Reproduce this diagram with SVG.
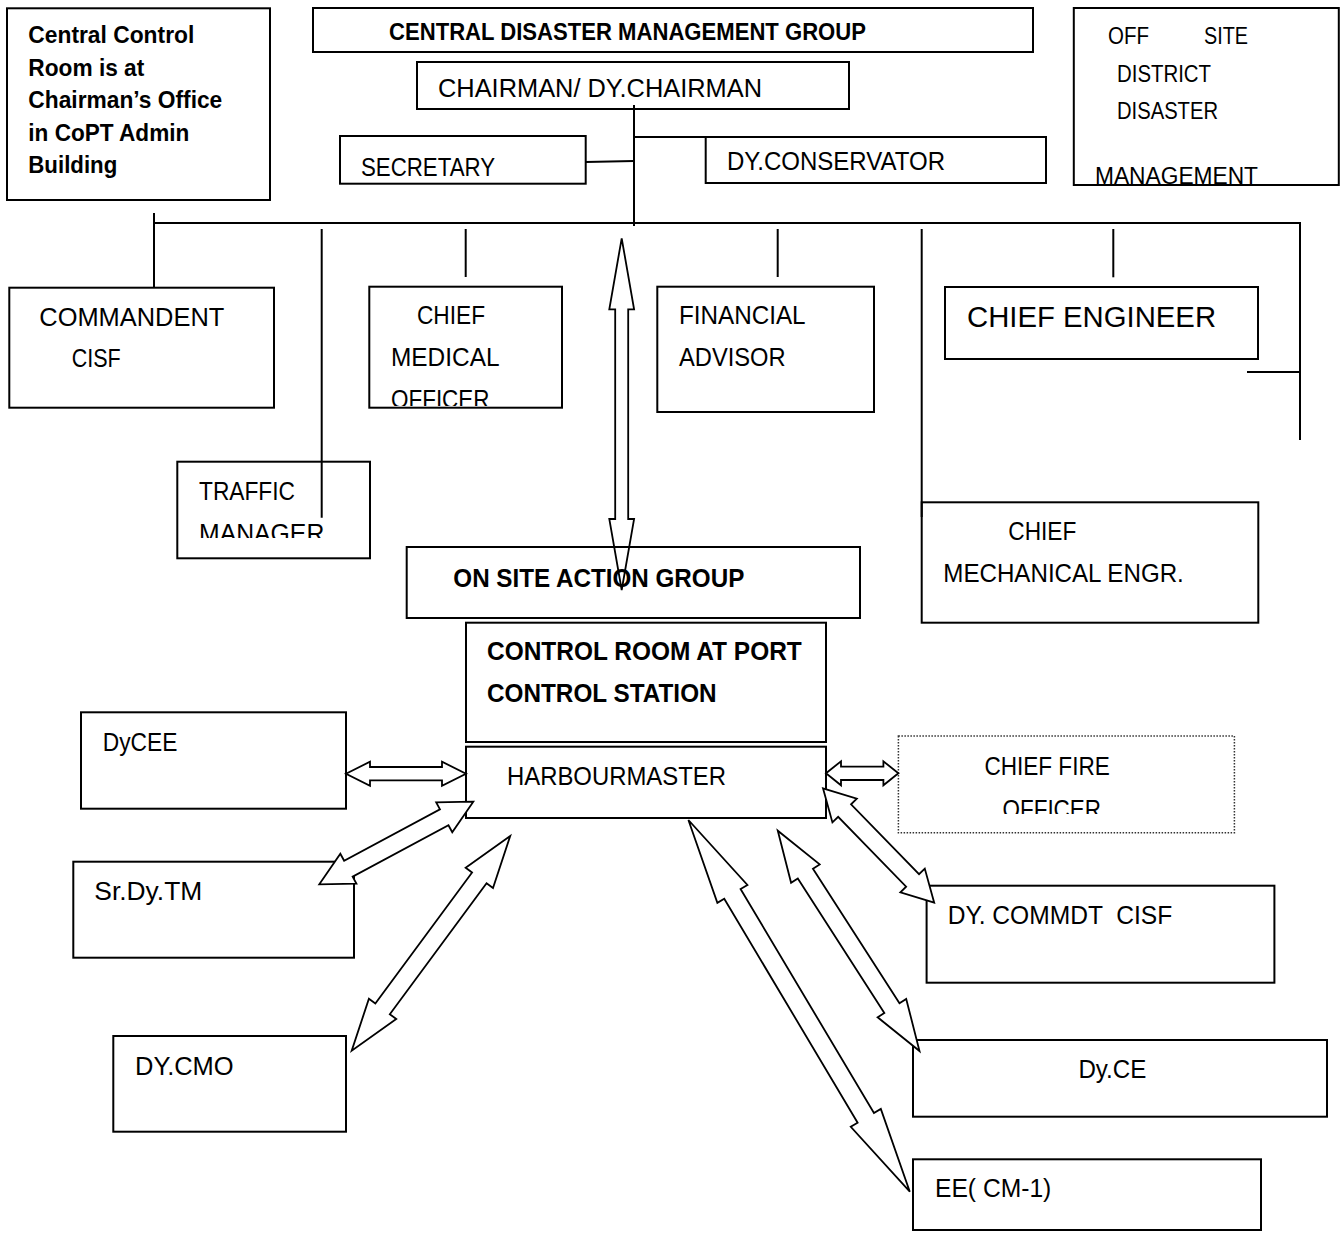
<svg xmlns="http://www.w3.org/2000/svg" width="1341" height="1233" viewBox="0 0 1341 1233">
<style>
.box{fill:#fff;stroke:#000;stroke-width:2}
.dot{fill:#fff;stroke:#333;stroke-width:1.5;stroke-dasharray:1.5 1.5}
.t{font-family:"Liberation Sans",Arial,sans-serif;font-size:26px;fill:#000}
.b{font-weight:bold;font-size:26px}
.s{font-weight:bold;font-size:24px}
.o{font-size:23.3px}
.ln{stroke:#000;stroke-width:2;fill:none}
.arr{fill:#fff;stroke:#000;stroke-width:1.8;stroke-linejoin:miter}
.arrn{fill:none;stroke:#000;stroke-width:1.8;stroke-linejoin:miter}
</style>
<defs>
<clipPath id="cMed"><rect x="369" y="286" width="194" height="120"/></clipPath>
<clipPath id="cTraf"><rect x="177" y="461" width="194" height="77"/></clipPath>
<clipPath id="cFire"><rect x="898" y="736" width="337" height="78"/></clipPath>
</defs>
<rect width="1341" height="1233" fill="#fff"/>

<g id="ccr">
<rect class="box" x="7" y="8.3" width="263" height="191.7"/>
<text class="t s" x="28.3" y="43" textLength="166" lengthAdjust="spacingAndGlyphs">Central Control</text>
<text class="t s" x="28.3" y="75.5" textLength="116" lengthAdjust="spacingAndGlyphs">Room is at</text>
<text class="t s" x="28.3" y="108" textLength="194" lengthAdjust="spacingAndGlyphs">Chairman’s Office</text>
<text class="t s" x="28.3" y="140.5" textLength="161" lengthAdjust="spacingAndGlyphs">in CoPT Admin</text>
<text class="t s" x="28.3" y="173" textLength="89" lengthAdjust="spacingAndGlyphs">Building</text>
</g>

<g id="cdmg">
<rect class="box" x="313" y="8" width="720" height="44"/>
<text class="t s" x="389" y="40" textLength="477" lengthAdjust="spacingAndGlyphs">CENTRAL DISASTER MANAGEMENT GROUP</text>
</g>

<g id="chairman">
<rect class="box" x="417" y="62" width="432" height="47"/>
<text class="t" x="438" y="97" textLength="324" lengthAdjust="spacingAndGlyphs">CHAIRMAN/ DY.CHAIRMAN</text>
</g>

<g id="secretary">
<rect class="box" x="340" y="136" width="245.7" height="47.7"/>
<text class="t" x="361" y="176" textLength="134" lengthAdjust="spacingAndGlyphs">SECRETARY</text>
</g>

<g id="dyconservator">
<rect class="box" x="705.7" y="137" width="340.3" height="46"/>
<text class="t" x="727" y="170" textLength="218" lengthAdjust="spacingAndGlyphs">DY.CONSERVATOR</text>
</g>

<g id="offsite">
<rect class="box" x="1073.8" y="8" width="265" height="177"/>
<text class="t o" x="1108" y="44" textLength="41" lengthAdjust="spacingAndGlyphs">OFF</text>
<text class="t o" x="1204" y="44" textLength="44" lengthAdjust="spacingAndGlyphs">SITE</text>
<text class="t o" x="1117" y="81.5" textLength="94" lengthAdjust="spacingAndGlyphs">DISTRICT</text>
<text class="t o" x="1117" y="119" textLength="101" lengthAdjust="spacingAndGlyphs">DISASTER</text>
<text class="t o" x="1095" y="184" textLength="163" lengthAdjust="spacingAndGlyphs">MANAGEMENT</text>
</g>

<g id="commandent">
<rect class="box" x="9.3" y="287.7" width="264.7" height="120"/>
<text class="t" x="39.3" y="326" textLength="185" lengthAdjust="spacingAndGlyphs">COMMANDENT</text>
<text class="t" x="71.7" y="366.7" textLength="49" lengthAdjust="spacingAndGlyphs">CISF</text>
</g>

<g id="cmo">
<rect class="box" x="369.3" y="286.7" width="192.7" height="121"/>
<text class="t" x="417" y="324" textLength="68" lengthAdjust="spacingAndGlyphs">CHIEF</text>
<text class="t" x="391" y="365.7" textLength="108.5" lengthAdjust="spacingAndGlyphs">MEDICAL</text>
<text class="t" x="391" y="408" textLength="98.5" lengthAdjust="spacingAndGlyphs" clip-path="url(#cMed)">OFFICER</text>
</g>

<g id="financial">
<rect class="box" x="657.3" y="286.7" width="216.7" height="125.3"/>
<text class="t" x="679" y="324.3" textLength="126.6" lengthAdjust="spacingAndGlyphs">FINANCIAL</text>
<text class="t" x="679" y="365.7" textLength="106.6" lengthAdjust="spacingAndGlyphs">ADVISOR</text>
</g>

<g id="chiefengineer">
<rect class="box" x="945" y="287" width="313" height="72"/>
<text class="t" x="967" y="326.7" style="font-size:29.3px">CHIEF ENGINEER</text>
</g>

<g id="traffic">
<rect class="box" x="177.3" y="461.7" width="192.7" height="96.6"/>
<text class="t" x="199" y="500" textLength="96" lengthAdjust="spacingAndGlyphs">TRAFFIC</text>
<text class="t" x="199" y="542" textLength="125.3" lengthAdjust="spacingAndGlyphs" clip-path="url(#cTraf)">MANAGER</text>
</g>

<g id="chiefmech">
<rect class="box" x="921.7" y="502.3" width="336.6" height="120.4"/>
<text class="t" x="1008.3" y="540" textLength="68" lengthAdjust="spacingAndGlyphs">CHIEF</text>
<text class="t" x="943.3" y="581.7" textLength="240.5" lengthAdjust="spacingAndGlyphs">MECHANICAL ENGR.</text>
</g>

<g id="onsite">
<rect class="box" x="406.7" y="547" width="453.3" height="71"/>
<text class="t b" x="453.3" y="586.7" textLength="291" lengthAdjust="spacingAndGlyphs">ON SITE ACTION GROUP</text>
</g>

<g id="controlroom">
<rect class="box" x="466" y="622.7" width="360" height="119.3"/>
<text class="t b" x="487" y="660" textLength="314.8" lengthAdjust="spacingAndGlyphs">CONTROL ROOM AT PORT</text>
<text class="t b" x="487" y="701.7" textLength="229.6" lengthAdjust="spacingAndGlyphs">CONTROL STATION</text>
</g>

<g id="harbourmaster">
<rect class="box" x="466" y="746.7" width="360" height="71.3"/>
<text class="t" x="507" y="785" textLength="219" lengthAdjust="spacingAndGlyphs">HARBOURMASTER</text>
</g>

<g id="dycee">
<rect class="box" x="81" y="712.3" width="265" height="96.4"/>
<text class="t" x="102.7" y="751" textLength="74.7" lengthAdjust="spacingAndGlyphs">DyCEE</text>
</g>

<g id="srdytm">
<rect class="box" x="73.3" y="861.7" width="280.7" height="96"/>
<text class="t" x="94.3" y="900" textLength="108" lengthAdjust="spacingAndGlyphs">Sr.Dy.TM</text>
</g>

<g id="dycmo">
<rect class="box" x="113.3" y="1036" width="232.7" height="95.7"/>
<text class="t" x="135" y="1075" textLength="98.7" lengthAdjust="spacingAndGlyphs">DY.CMO</text>
</g>

<g id="chieffire">
<rect class="dot" x="898.4" y="736" width="336" height="96.7"/>
<text class="t" x="984.4" y="775" textLength="125.4" lengthAdjust="spacingAndGlyphs">CHIEF FIRE</text>
<text class="t" x="1002.5" y="818" textLength="98.5" lengthAdjust="spacingAndGlyphs" clip-path="url(#cFire)">OFFICER</text>
</g>

<g id="dycommdt">
<rect class="box" x="926.6" y="885.7" width="347.8" height="97"/>
<text class="t" x="947.7" y="924.3" textLength="224.5" lengthAdjust="spacingAndGlyphs" style="white-space:pre">DY. COMMDT  CISF</text>
</g>

<g id="dyce">
<rect class="box" x="913" y="1040" width="414" height="76.7"/>
<text class="t" x="1078.4" y="1078.3" textLength="68" lengthAdjust="spacingAndGlyphs">Dy.CE</text>
</g>

<g id="ee">
<rect class="box" x="913" y="1159.3" width="348" height="70.7"/>
<text class="t" x="935" y="1197.3" textLength="116.3" lengthAdjust="spacingAndGlyphs">EE( CM-1)</text>
</g>

<g id="connectors">
<line class="ln" x1="634" y1="105" x2="634" y2="226"/>
<line class="ln" x1="634" y1="137" x2="717" y2="137"/>
<line class="ln" x1="585.7" y1="162" x2="634" y2="161"/>
<line class="ln" x1="153" y1="223" x2="1301" y2="223"/>
<line class="ln" x1="154" y1="213" x2="154" y2="287.7"/>
<line class="ln" x1="321.7" y1="229" x2="321.7" y2="517.7"/>
<line class="ln" x1="465.7" y1="229" x2="465.7" y2="277"/>
<line class="ln" x1="777.7" y1="229" x2="777.7" y2="277"/>
<line class="ln" x1="921.7" y1="229" x2="921.7" y2="517"/>
<line class="ln" x1="1113.3" y1="229" x2="1113.3" y2="277.3"/>
<line class="ln" x1="1300" y1="222" x2="1300" y2="440"/>
<line class="ln" x1="1247" y1="372" x2="1300" y2="372"/>
<polygon class="arrn" points="621.7,238.3 634.1,309.3 628.2,309.3 628.2,519 634.1,519 621.7,590 609.3,519 615.2,519 615.2,309.3 609.3,309.3"/>
<polygon class="arr" points="346,773.7 370,761.7 370,767 442,767 442,761.7 466,773.7 442,785.7 442,780.4 370,780.4 370,785.7"/>
<polygon class="arr" points="826,773.3 841,761.3 841,766.6 883.4,766.6 883.4,761.3 898.4,773.3 883.4,785.3 883.4,780 841,780 841,785.3"/>
<polygon class="arr" points="473.3,801.7 436.18,802.32 439.97,809.37 344.13,860.77 340.34,853.72 319.3,884.3 356.42,883.68 352.63,876.63 448.47,825.23 452.26,832.28"/>
<polygon class="arr" points="510.2,836 465.64,867.73 472.08,872.48 375.34,1003.52 368.9,998.77 351.7,1050.7 396.26,1018.97 389.82,1014.22 486.56,883.18 493,887.93"/>
<polygon class="arr" points="823,788.3 832.42,822.38 838.16,816.8 906.14,886.74 900.4,892.32 934.2,902.7 924.78,868.62 919.04,874.2 851.06,804.26 856.8,798.68"/>
<polygon class="arr" points="777.8,830.7 791.09,882.79 797.82,878.46 884.34,1012.98 877.61,1017.31 919.5,1051 906.21,998.91 899.48,1003.24 812.96,868.72 819.69,864.39"/>
<polygon class="arr" points="688.4,820 717.38,902.83 724.25,898.74 857.63,1122.68 850.76,1126.77 909.8,1191.7 880.82,1108.87 873.95,1112.96 740.57,889.02 747.44,884.93"/>
</g>
</svg>
